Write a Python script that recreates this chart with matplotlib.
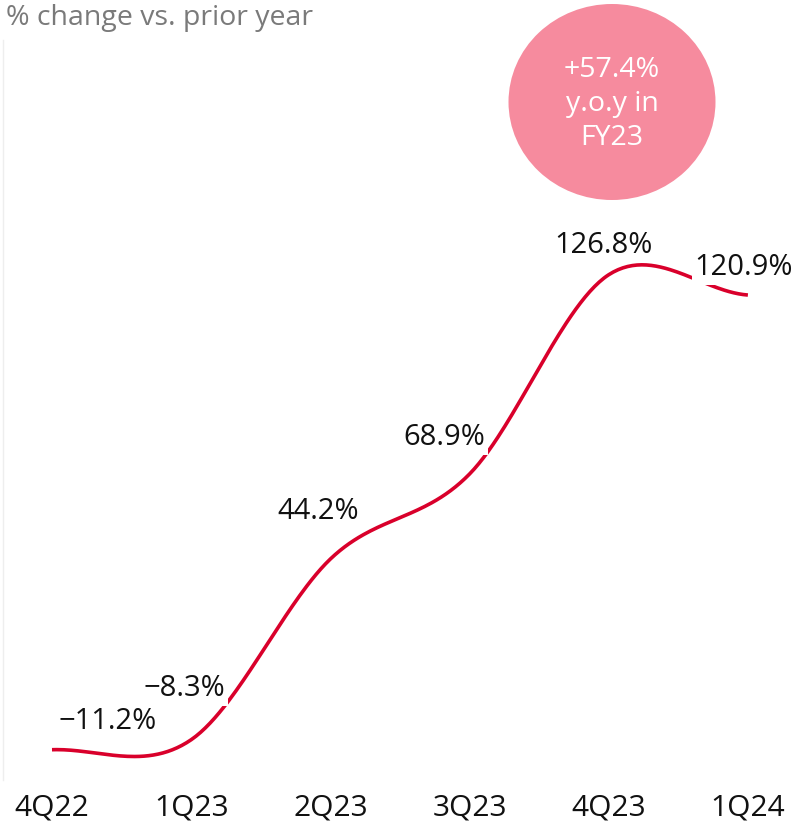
import numpy as np
import matplotlib
matplotlib.use("Agg")
import matplotlib.pyplot as plt
from matplotlib.patches import Ellipse

plt.rcParams['font.family'] = ['Open Sans', 'DejaVu Sans']

quarters = ['4Q22', '1Q23', '2Q23', '3Q23', '4Q23', '1Q24']
yoy_change = [-11.2, -8.3, 44.2, 68.9, 126.8, 120.9]
value_labels = ['\u221211.2%', '\u22128.3%', '44.2%', '68.9%', '126.8%', '120.9%']
# label offsets in points (dx, dy) from each point
label_offsets = [(40, 20), (-5, 37), (-9, 34), (-18, 26), (-4, 21), (-3, 20)]

fy_note = '+57.4%\ny.o.y in\nFY23'


def catmull_rom(x, y, n=60):
    # cardinal spline (tension 0), end points duplicated
    x = np.asarray(x, float)
    y = np.asarray(y, float)
    yp = np.concatenate([[y[0]], y, [y[-1]]])
    m = (yp[2:] - yp[:-2]) / 2.0
    xs_all, ys_all = [], []
    for i in range(len(x) - 1):
        t = np.linspace(0, 1, n)
        h00 = 2 * t**3 - 3 * t**2 + 1
        h10 = t**3 - 2 * t**2 + t
        h01 = -2 * t**3 + 3 * t**2
        h11 = t**3 - t**2
        xs_all.append(x[i] + t * (x[i + 1] - x[i]))
        ys_all.append(h00 * y[i] + h10 * m[i] + h01 * y[i + 1] + h11 * m[i + 1])
    return np.concatenate(xs_all), np.concatenate(ys_all)


fig = plt.figure(figsize=(7.98, 8.24), dpi=100)
ax = fig.add_axes([3 / 798, 1 - 780 / 824, 795 / 798, 740 / 824])

xpos = np.arange(len(quarters))
xs, ys = catmull_rom(xpos, yoy_change)
ax.plot(xs, ys, color='#D9002B', lw=2.6, zorder=2, solid_capstyle='butt')

for xi, v, lab, off in zip(xpos, yoy_change, value_labels, label_offsets):
    ax.annotate(lab, (xi, v), xytext=off, textcoords='offset points',
                ha='center', va='center', fontsize=21, color='#111111', zorder=3,
                bbox=dict(boxstyle='square,pad=0.1', fc='white', ec='none'))

ax.set_xlim(-0.352, 5.36)
ax.set_ylim(-20.0, 195.0)
ax.set_xticks(xpos)
ax.set_xticklabels(quarters, fontsize=21.5, color='#111111')
ax.tick_params(axis='x', length=0, pad=10)
ax.set_yticks([])
for s in ['top', 'right', 'bottom']:
    ax.spines[s].set_visible(False)
ax.spines['left'].set_color('#eeeeee')
ax.spines['left'].set_linewidth(1)

fig.text(6 / 798, 1 - 18 / 824, '% change vs. prior year', fontsize=20.5,
         color='#7a7a7a', ha='left', va='center')

circ = Ellipse((612 / 798, 1 - 102 / 824), 207 / 798, 196 / 824,
               transform=fig.transFigure, fc='#F68B9E', ec='none')
fig.patches.append(circ)
fig.text(612 / 798, 1 - 104 / 824, fy_note, fontsize=20.5, color='white',
         ha='center', va='center', linespacing=1.3)

fig.savefig('out.png', dpi=100)
